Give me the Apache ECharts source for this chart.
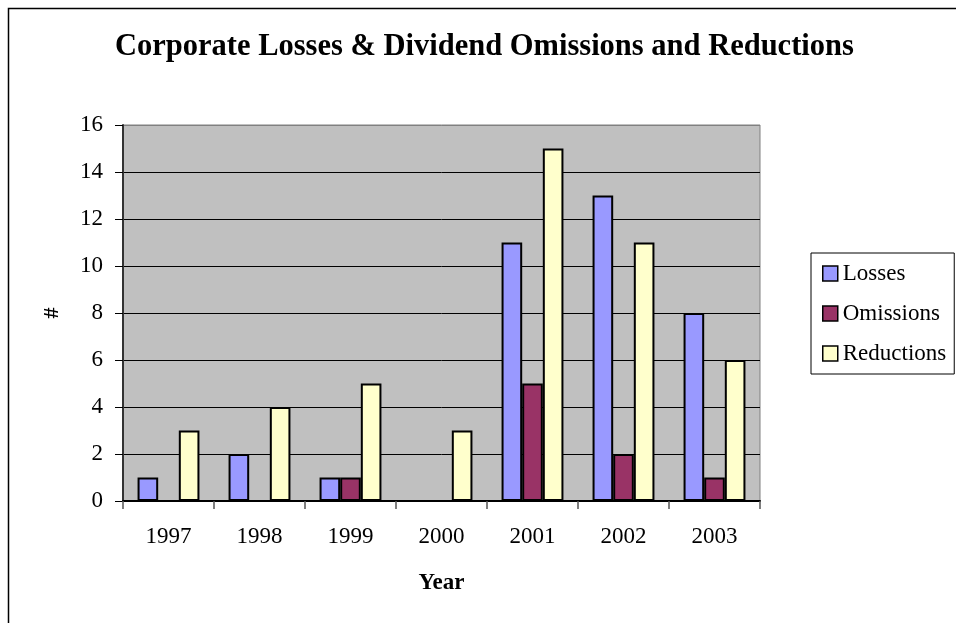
<!DOCTYPE html>
<html>
<head>
<meta charset="utf-8">
<script src="https://cdn.jsdelivr.net/npm/echarts@6/dist/echarts.min.js"></script>
<style>
html,body{margin:0;padding:0;background:#fff;}
#c{width:956px;height:623px;}
</style>
</head>
<body>
<div id="c"></div>
<script>
const years = ['1997','1998','1999','2000','2001','2002','2003'];
const losses = [1, 2, 1, 0, 11, 13, 8];
const omissions = [0, 0, 1, 0, 5, 2, 1];
const reductions = [3, 4, 5, 3, 15, 11, 6];
const seriesNames = ['Losses', 'Omissions', 'Reductions'];
const yTicks = [0, 2, 4, 6, 8, 10, 12, 14, 16];

const FONT = "'Liberation Serif', 'Times New Roman', serif";
const chart = echarts.init(document.getElementById('c'), null, {renderer: 'canvas'});

const splitColors = yTicks.map((v, i) => i === yTicks.length - 1 ? '#808080' : '#000000');

chart.setOption({
  animation: false,
  backgroundColor: '#ffffff',
  graphic: [{
    type: 'rect',
    shape: {x: 8.5, y: 8.5, width: 1000, height: 700},
    style: {fill: 'none', stroke: '#000', lineWidth: 1.5},
    silent: true
  }],
  title: {
    text: 'Corporate Losses & Dividend Omissions and Reductions',
    left: 110,
    top: 27,
    textStyle: {fontFamily: FONT, fontSize: 30.5, fontWeight: 'bold', color: '#000'}
  },
  legend: {
    orient: 'vertical',
    left: 811,
    top: 253,
    padding: [9, 8, 9, 11],
    itemWidth: 15,
    itemHeight: 15,
    itemGap: 17,
    icon: 'rect',
    borderColor: '#000',
    borderWidth: 1,
    backgroundColor: '#fff',
    data: seriesNames,
    itemStyle: {borderColor: '#000', borderWidth: 1.5},
    textStyle: {fontFamily: FONT, fontSize: 23, color: '#000'}
  },
  grid: {
    left: 123, top: 125, right: 196, bottom: 122,
    show: true,
    backgroundColor: '#C0C0C0',
    borderColor: '#808080',
    borderWidth: 1,
    containLabel: false
  },
  xAxis: {
    type: 'category',
    data: years,
    name: 'Year',
    nameLocation: 'middle',
    nameGap: 71,
    nameTextStyle: {fontFamily: FONT, fontSize: 23, fontWeight: 'bold', color: '#000'},
    axisLine: {show: true, lineStyle: {color: '#000', width: 2}},
    axisTick: {show: true, alignWithLabel: false, length: 8, lineStyle: {color: '#555', width: 1.5}},
    axisLabel: {fontFamily: FONT, fontSize: 23, color: '#000', margin: 24},
    splitLine: {show: false}
  },
  yAxis: {
    type: 'value',
    min: 0,
    max: 16,
    interval: 2,
    name: '#',
    nameLocation: 'middle',
    nameGap: 60,
    nameTextStyle: {fontFamily: FONT, fontSize: 22, fontWeight: 'bold', color: '#000'},
    axisLine: {show: true, lineStyle: {color: '#333', width: 2}},
    axisTick: {show: true, length: 8, lineStyle: {color: '#000', width: 1}},
    axisLabel: {fontFamily: FONT, fontSize: 23, color: '#000', margin: 20},
    splitLine: {show: true, lineStyle: {color: splitColors, width: 1}}
  },
  series: [
    {name: seriesNames[0], type: 'bar', data: losses, barGap: '0%', barCategoryGap: '32%',
     itemStyle: {color: '#9999FF', borderColor: '#000', borderWidth: 2}},
    {name: seriesNames[1], type: 'bar', data: omissions, barGap: '0%', barCategoryGap: '32%',
     itemStyle: {color: '#993366', borderColor: '#000', borderWidth: 2}},
    {name: seriesNames[2], type: 'bar', data: reductions, barGap: '0%', barCategoryGap: '32%',
     itemStyle: {color: '#FFFFCC', borderColor: '#000', borderWidth: 2}}
  ]
});
</script>
</body>
</html>
